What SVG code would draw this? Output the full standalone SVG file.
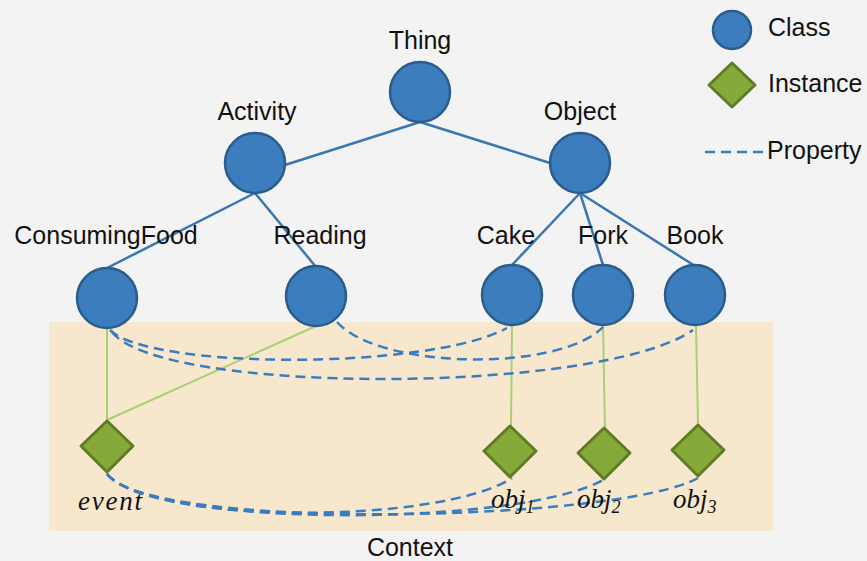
<svg xmlns="http://www.w3.org/2000/svg" width="867" height="561" viewBox="0 0 867 561">
<defs>
<style>
.lbl{font-family:"Liberation Sans",Arial,sans-serif;font-size:25px;fill:#111;}
.math{font-family:"Liberation Serif","Times New Roman",serif;font-style:italic;font-size:27px;fill:#111;}
.sub{font-size:18px;}
.cls{fill:#3b7dbd;stroke:#2a5d8e;stroke-width:2.5;}
.inst{fill:#86aa3a;stroke:#5e7c25;stroke-width:3;stroke-linejoin:round;}
.tree{stroke:#3a76b2;stroke-width:2.5;fill:none;}
.type{stroke:#a8cf72;stroke-width:2;fill:none;}
.prop{stroke:#3a7cc0;stroke-width:2.5;fill:none;stroke-dasharray:10 6;}
</style>
</defs>
<rect width="867" height="561" fill="#f3f3f3"/>
<rect id="context" x="49" y="322" width="724" height="209" fill="#f7e8cd"/>
<text class="lbl" x="410" y="556" text-anchor="middle">Context</text>

<g id="connectors">
<line class="tree" x1="420" y1="122" x2="285" y2="165"/>
<line class="tree" x1="420" y1="122" x2="550" y2="163"/>
<line class="tree" x1="255" y1="193" x2="107" y2="268"/>
<line class="tree" x1="255" y1="193" x2="316" y2="267"/>
<line class="tree" x1="580" y1="193" x2="512" y2="265"/>
<line class="tree" x1="580" y1="193" x2="603" y2="265"/>
<line class="tree" x1="580" y1="193" x2="695" y2="266"/>
<line class="type" x1="107" y1="328" x2="107" y2="420"/>
<line class="type" x1="316" y1="326" x2="107" y2="420"/>
<line class="type" x1="512" y1="325" x2="511" y2="426"/>
<line class="type" x1="603" y1="325" x2="605" y2="428"/>
<line class="type" x1="696" y1="326" x2="698" y2="425"/>
<path class="prop" d="M110,330 C150,370 430,370 507,328"/>
<path class="prop" d="M112,332 C160,395 600,395 693,330"/>
<path class="prop" d="M337,322 C380,370 560,372 603,327"/>
<path class="prop" d="M107,474 C150,525 440,525 512,478"/>
<path class="prop" d="M107,474 C150,528 520,528 605,479"/>
<path class="prop" d="M107,474 C150,532 620,522 698,478"/>
</g>

<g id="Thing"><circle class="cls" cx="420" cy="92" r="30"/><text class="lbl" x="420" y="49" text-anchor="middle">Thing</text></g>
<g id="Activity"><circle class="cls" cx="255" cy="163" r="30"/><text class="lbl" x="257" y="120" text-anchor="middle">Activity</text></g>
<g id="Object"><circle class="cls" cx="580" cy="163" r="30"/><text class="lbl" x="580" y="120" text-anchor="middle">Object</text></g>
<g id="ConsumingFood"><circle class="cls" cx="107" cy="298" r="30"/><text class="lbl" x="106" y="244" text-anchor="middle">ConsumingFood</text></g>
<g id="Reading"><circle class="cls" cx="316" cy="296" r="30"/><text class="lbl" x="320" y="244" text-anchor="middle">Reading</text></g>
<g id="Cake"><circle class="cls" cx="512" cy="295" r="30"/><text class="lbl" x="506" y="244" text-anchor="middle">Cake</text></g>
<g id="Fork"><circle class="cls" cx="603" cy="295" r="30"/><text class="lbl" x="603" y="244" text-anchor="middle">Fork</text></g>
<g id="Book"><circle class="cls" cx="695" cy="295" r="30"/><text class="lbl" x="695" y="244" text-anchor="middle">Book</text></g>

<g id="event"><polygon class="inst" points="107,421 133,446 107,472 81,446"/><text class="math" x="78" y="510" textLength="64">event</text></g>
<g id="obj1"><polygon class="inst" points="510,426 536,451 510,477 484,451"/><text class="math" x="491" y="508">obj<tspan class="sub" dy="5">1</tspan></text></g>
<g id="obj2"><polygon class="inst" points="604,428 630,453 604,479 578,453"/><text class="math" x="577" y="508">obj<tspan class="sub" dy="5">2</tspan></text></g>
<g id="obj3"><polygon class="inst" points="698,425 724,450 698,476 672,450"/><text class="math" x="673" y="508">obj<tspan class="sub" dy="5">3</tspan></text></g>

<g id="legend">
<circle class="cls" cx="732" cy="30" r="19"/>
<text class="lbl" x="768" y="36">Class</text>
<polygon class="inst" points="732,63 755,85 732,107 709,85"/>
<text class="lbl" x="768" y="92">Instance</text>
<line class="prop" x1="705" y1="152" x2="763" y2="152" stroke-dasharray="2 6 10 6 10 6 10 6"/>
<text class="lbl" x="767" y="159">Property</text>
</g>
</svg>
